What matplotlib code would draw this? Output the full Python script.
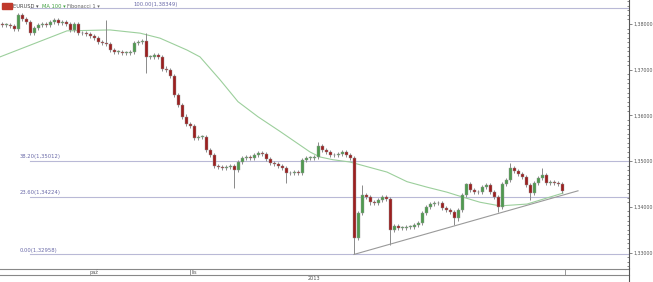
import numpy as np
import matplotlib
matplotlib.use("Agg")
import matplotlib.pyplot as plt
from matplotlib.ticker import MultipleLocator, FuncFormatter

# closing prices, one candle every 4 px of the original chart
closes = [1.3798, 1.3798, 1.3796, 1.3789, 1.3820, 1.3811, 1.3804, 1.3780, 1.3791, 1.3798,
          1.3800, 1.3798, 1.3804, 1.3809, 1.3802, 1.3804, 1.3800, 1.3787, 1.3800, 1.3780,
          1.3780, 1.3778, 1.3774, 1.3769, 1.3761, 1.3758, 1.3756, 1.3743, 1.3739, 1.3739,
          1.3737, 1.3737, 1.3739, 1.3758, 1.3761, 1.3763, 1.3728, 1.3728, 1.3732, 1.3728,
          1.3702, 1.3699, 1.3686, 1.3645, 1.3623, 1.3597, 1.3581, 1.3577, 1.3551, 1.3553,
          1.3553, 1.3524, 1.3513, 1.3489, 1.3487, 1.3485, 1.3487, 1.3489, 1.3481, 1.3498,
          1.3507, 1.3509, 1.3507, 1.3513, 1.3518, 1.3516, 1.3505, 1.3496, 1.3494, 1.3489,
          1.3485, 1.3474, 1.3474, 1.3476, 1.3474, 1.3502, 1.3507, 1.3507, 1.3509, 1.3533,
          1.3524, 1.3520, 1.3513, 1.3513, 1.3516, 1.3520, 1.3513, 1.3507, 1.3332, 1.3386,
          1.3426, 1.3421, 1.3410, 1.3408, 1.3415, 1.3421, 1.3417, 1.3349, 1.3358, 1.3354,
          1.3354, 1.3356, 1.3356, 1.3360, 1.3365, 1.3386, 1.3400, 1.3406, 1.3408, 1.3408,
          1.3397, 1.3393, 1.3389, 1.3375, 1.3393, 1.3426, 1.3450, 1.3437, 1.3432, 1.3432,
          1.3443, 1.3448, 1.3432, 1.3421, 1.3400, 1.3450, 1.3459, 1.3485, 1.3478, 1.3472,
          1.3465, 1.3448, 1.3430, 1.3452, 1.3463, 1.3470, 1.3452, 1.3454, 1.3452, 1.3450,
          1.3435]

# notable wick extremes: candle index -> price
wick_highs = {4: 1.3824, 26: 1.3809, 36: 1.3780, 79: 1.3542, 90: 1.3448,
              116: 1.3452, 127: 1.3496, 135: 1.3485}
wick_lows = {36: 1.3693, 58: 1.3441, 71: 1.3452, 88: 1.32958, 97: 1.3316,
             113: 1.3360, 124: 1.3389, 132: 1.3415}

# MA 100 (candle index, price)
ma_idx = [-0.5, 16.25, 27, 34.5, 39.5, 46.25, 49.5, 54.5, 59, 64, 69.5, 74.5, 77,
          79.5, 82.75, 87, 96.25, 101.25, 106.25, 111.25, 115.25, 119.5, 124.5, 131.25, 140.25]
ma_val = [1.3728, 1.3785, 1.3787, 1.3780, 1.3769, 1.3743, 1.3728, 1.3678, 1.3630, 1.3597,
          1.3565, 1.3535, 1.3520, 1.3509, 1.3503, 1.3498, 1.3476, 1.3455, 1.3443,
          1.3432, 1.3421, 1.3410, 1.3402, 1.3406, 1.3430]

fib_levels = [1.38349, 1.35012, 1.34224, 1.32958]
fib_labels = ["100.00(1,38349)", "38.20(1,35012)", "23.60(1,34224)", "0.00(1,32958)"]

trend_idx = [88, 144]
trend_val = [1.32958, 1.3435]

W, H = 653, 282
fig = plt.figure(figsize=(W / 100, H / 100), dpi=100)
ax = fig.add_axes([0, 1 - 268 / H, 629 / W, 268 / H])

up_col = "#4f9a4f"
dn_col = "#9c1f1f"
wick_col = "#8a8a8a"

prev = closes[0] + 0.0002
for i, c in enumerate(closes):
    o = prev
    hi = wick_highs.get(i, max(o, c) + 0.0005)
    lo = wick_lows.get(i, min(o, c) - 0.0005)
    ax.vlines(i, lo, hi, color=wick_col, lw=0.7, zorder=3)
    col = up_col if c >= o else dn_col
    body = max(abs(c - o), 0.0001)
    ax.bar(i, body, bottom=min(o, c), width=0.75, color=col, edgecolor="#9a9a9a",
           lw=0.3, zorder=4)
    prev = c

ax.plot(ma_idx, ma_val, color="#9ccf9c", lw=0.8, zorder=2)
ax.plot(trend_idx, trend_val, color="#9a9a9a", lw=0.8, zorder=5)

xmax = 156.75
for lev, lab in zip(fib_levels, fib_labels):
    ax.plot([7, xmax], [lev, lev], color="#b9b9d6", lw=0.8, zorder=1)
    lx = 32.75 if lab.startswith("100") else 4.5
    ax.text(lx, lev + 0.0003, lab, fontsize=3.8, color="#6a6aa8", va="bottom", ha="left")

ax.set_xlim(-0.5, xmax)
ax.set_ylim(1.32661, 1.38525)

for s in ["left", "top", "bottom"]:
    ax.spines[s].set_visible(False)
ax.spines["right"].set_color("#555555")
ax.spines["right"].set_linewidth(0.8)
ax.set_xticks([])
ax.yaxis.tick_right()
ax.yaxis.set_major_locator(MultipleLocator(0.01))
ax.yaxis.set_minor_locator(MultipleLocator(0.001))
ax.yaxis.set_major_formatter(FuncFormatter(lambda v, p: f"{v:.5f}".replace(".", ",")))
ax.tick_params(axis="y", which="major", length=2.5, width=0.5, direction="out",
               labelsize=3.4, colors="#555555", pad=1)
ax.tick_params(axis="y", which="minor", length=1.5, width=0.5, direction="in",
               colors="#555555")

# time band under the chart
band = fig.add_axes([0, 0, 1, 14 / H])
band.set_xlim(0, W)
band.set_ylim(14, 0)
band.axis("off")
band.plot([0, 629], [1, 1], color="#888888", lw=0.8)
band.plot([0, 629], [7, 7], color="#888888", lw=0.8)
band.plot([629, 629], [0, 14], color="#555555", lw=0.8)
band.plot([190, 190], [1, 7], color="#888888", lw=0.6)
band.plot([565, 565], [1, 7], color="#888888", lw=0.6)
band.text(90, 4.2, "paź", fontsize=3.6, color="#555555", va="center")
band.text(191.5, 4.2, "lis", fontsize=3.6, color="#555555", va="center")
band.text(314, 10.5, "2013", fontsize=3.6, color="#555555", va="center", ha="center")

# legend header
fig.patches.append(plt.Rectangle((2 / W, 1 - 9 / H), 10 / W, 6 / H, transform=fig.transFigure,
                                 color="#c0392b", zorder=10))
fig.text(13 / W, 1 - 6 / H, "EURUSD ▾", fontsize=3.7, color="#444444", va="center")
fig.text(42 / W, 1 - 6 / H, "MA 100 ▾", fontsize=3.7, color="#3f9f3f", va="center")
fig.text(67 / W, 1 - 6 / H, "Fibonacci 1 ▾", fontsize=3.7, color="#666666", va="center")

fig.savefig("out.png", dpi=100, facecolor="white")
